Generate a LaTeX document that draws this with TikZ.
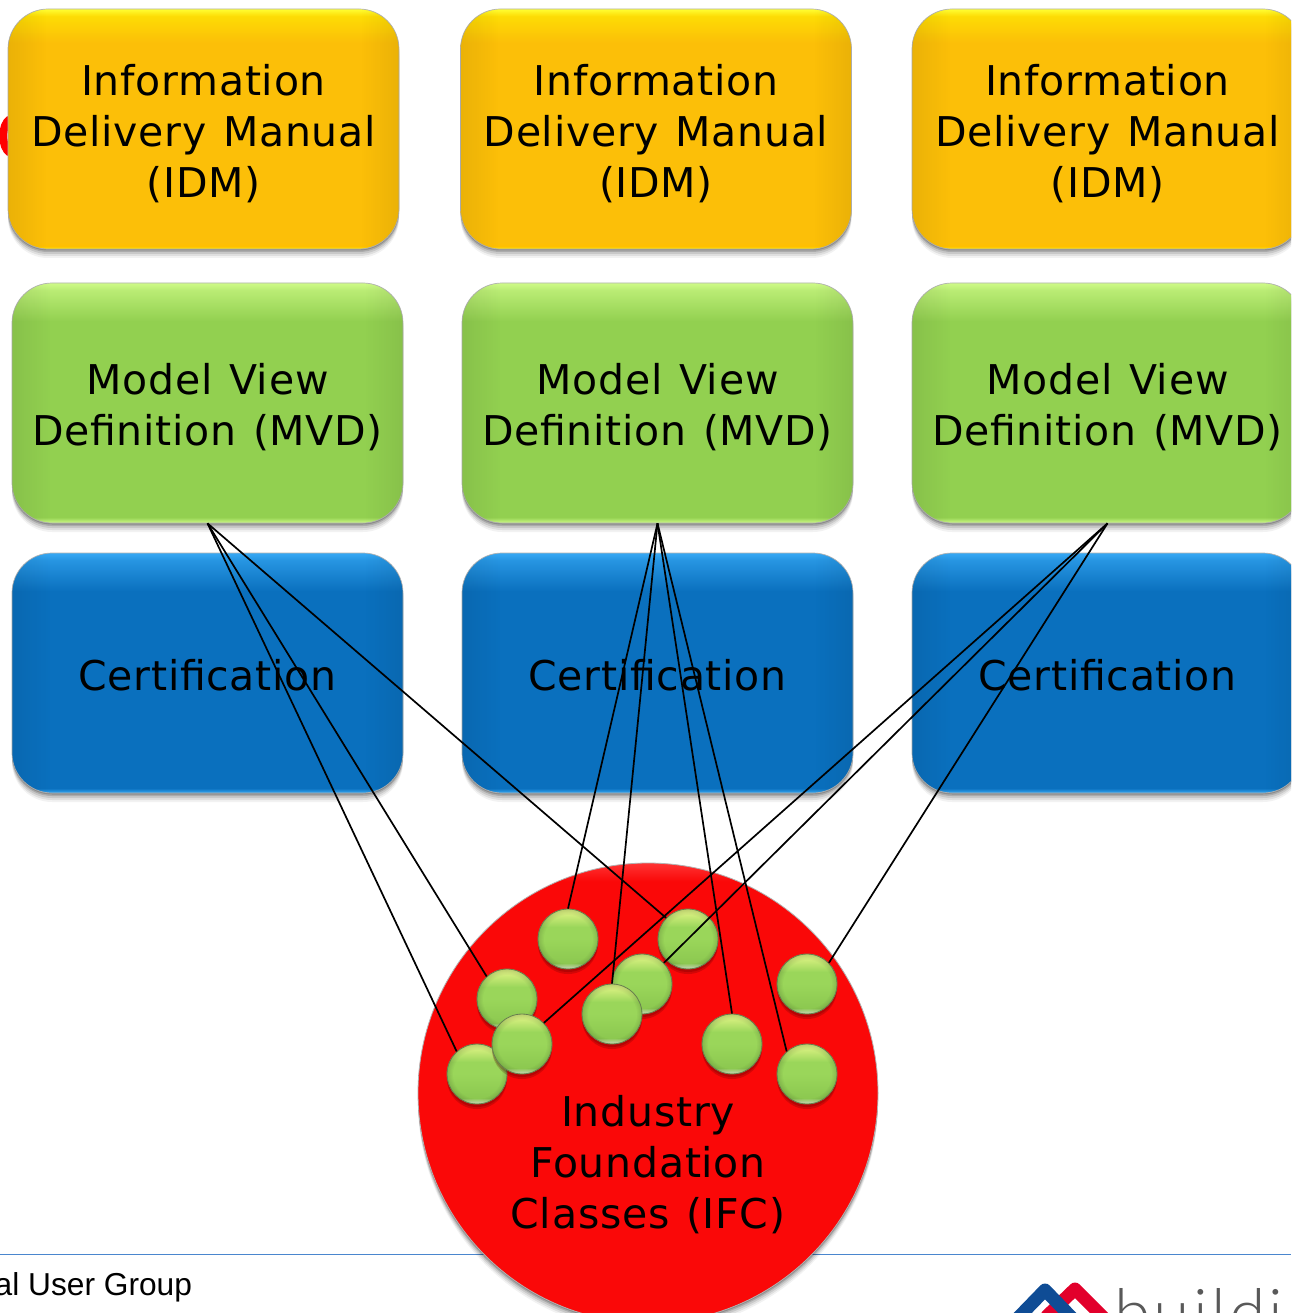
\documentclass[tikz,border=0pt]{standalone}
\usepackage{fontspec}
\setmainfont[LetterSpace=1.8,WordSpace=1.2]{DejaVu Sans}
\newfontfamily\footfont{Liberation Sans}
\newfontfamily\logofont[LetterSpace=5]{Lato Light}
\usetikzlibrary{shadows,fadings}
\definecolor{capBlue}{HTML}{4A86CE}
\definecolor{logoBlue}{HTML}{0F4C95}
\definecolor{logoRed}{HTML}{E2002B}
\definecolor{yellowbase}{HTML}{FCBF08}
\definecolor{greenbase}{HTML}{92D050}
\definecolor{greenhi}{HTML}{CFFB88}
\definecolor{bluebase}{HTML}{0A70BE}
\definecolor{bluehi}{HTML}{36A9F5}
\definecolor{redbase}{HTML}{FA0808}
\definecolor{ballTop}{HTML}{D8F080}
\definecolor{ballMid}{HTML}{9AD65A}
\definecolor{ballBot}{HTML}{8CC850}
\definecolor{ballHi}{HTML}{C4E88A}
\definecolor{ballEdge}{HTML}{708A55}
\pgfdeclareverticalshading{yellowbox}{100bp}{color(0bp)=(yellow!80!orange);color(25bp)=(yellow!80!orange);color(25.6bp)=(yellow!50!orange);color(26.5bp)=(yellowbase);color(68bp)=(yellowbase);color(73.5bp)=(yellowbase!55!yellow);color(75bp)=(yellow!80!white);color(100bp)=(yellow!80!white)}
\pgfdeclareverticalshading{greenbox}{100bp}{color(0bp)=(greenhi);color(25bp)=(greenhi);color(26.2bp)=(greenbase);color(67bp)=(greenbase);color(73.5bp)=(greenbase!35!greenhi);color(75bp)=(greenhi);color(100bp)=(greenhi)}
\pgfdeclareverticalshading{bluebox}{100bp}{color(0bp)=(bluehi);color(25bp)=(bluehi);color(26bp)=(bluebase);color(67bp)=(bluebase);color(73.5bp)=(bluebase!35!bluehi);color(75bp)=(bluehi);color(100bp)=(bluehi)}
\pgfdeclareverticalshading{redball}{100bp}{color(0bp)=(red!85!white);color(25bp)=(red!85!white);color(26.5bp)=(redbase);color(73bp)=(redbase);color(75bp)=(red!80!white);color(100bp)=(red!80!white)}
\pgfdeclareverticalshading{greenball}{100bp}{color(0bp)=(ballHi);color(25bp)=(ballHi);color(26.5bp)=(ballBot!45!white);color(30bp)=(ballBot);color(50bp)=(ballMid);color(60bp)=(ballMid);color(72bp)=(ballTop);color(75bp)=(ballTop);color(100bp)=(ballTop)}
\pgfdeclarehorizontalshading{sidefadeS}{100bp}{color(0bp)=(white);color(25bp)=(white);color(30bp)=(black);color(70bp)=(black);color(75bp)=(white);color(100bp)=(white)}
\pgfdeclareradialshading{edgefadeS}{\pgfpoint{0bp}{0bp}}{color(0bp)=(black);color(20bp)=(black);color(25bp)=(white);color(50bp)=(white)}
\tikzfading[name=sidefade,shading=sidefadeS]
\tikzfading[name=edgefade,shading=edgefadeS]
\newcommand{\dropText}[2]{\raisebox{-#1}[\height][\depth]{#2}}
\tikzset{
  softshadow/.style={
    general shadow={fill=black,opacity=.05,shadow yshift=-9pt},
    general shadow={fill=black,opacity=.08,shadow yshift=-7pt},
    general shadow={fill=black,opacity=.10,shadow yshift=-5pt},
    general shadow={fill=black,opacity=.14,shadow yshift=-3pt},
    general shadow={fill=black,opacity=.18,shadow yshift=-1.5pt}},
  panel/.style={rectangle,rounded corners=40pt,minimum width=391pt,minimum height=240pt,
    inner sep=0pt,align=center,draw=black!30,line width=.7pt,softshadow,
    font=\fontsize{41}{51}\selectfont,
    postaction={fill=black,fill opacity=.07,path fading=sidefade}},
  idmbox/.style={panel,shading=yellowbox},
  mvdbox/.style={panel,shading=greenbox},
  certbox/.style={panel,shading=bluebox},
  ifcdisc/.style={circle,minimum size=460pt,inner sep=0pt,shading=redball,draw=black!30,line width=.8pt,softshadow},
  ifclabel/.style={align=center,inner sep=0pt,font=\fontsize{41}{51}\selectfont},
  entity/.style={circle,minimum size=60pt,inner sep=0pt,shading=greenball,draw=ballEdge,line width=.8pt,
    general shadow={fill=black!70!red,opacity=.22,shadow yshift=-5pt},
    general shadow={fill=black!70!red,opacity=.22,shadow yshift=-3pt},
    postaction={fill=black,fill opacity=.14,path fading=edgefade}},
  link/.style={draw=black,line width=1.7pt},
  rule/.style={draw=capBlue,line width=1.3pt},
  logoband/.style={line width=13pt,line join=round,line cap=round}
}
\begin{document}
\begin{tikzpicture}[x=1pt,y=-1pt]
\useasboundingbox (0,0) rectangle (1291,1313);
\clip (0,0) rectangle (1291,1313);
\fill[white] (0,0) rectangle (1291,1313);
% footer
\coordinate (ruleL) at (0,1254.5);
\coordinate (ruleR) at (1291,1254.5);
\draw[rule] (ruleL) -- (ruleR);
\node[anchor=base west,inner sep=0pt,font=\footfont\fontsize{31.7}{36}\selectfont] (foot) at (-5.5,1295) {al User Group};
\draw[logoband,draw=logoRed] (1047,1316) -- (1075,1289) -- (1106,1320);
\draw[logoband,draw=logoBlue] (1014,1322) -- (1045,1290) -- (1076,1322);
\node[anchor=base west,inner sep=0pt,text=black!65,font=\logofont\fontsize{66}{70}\selectfont] (logo) at (1114,1336) {buildin};
% red fragment behind first box
\draw[red,line width=8pt] (10,119) .. controls (1,125) and (1,147) .. (10,153);
% panels
\node[idmbox] (idm1) at (203.5,129) {\dropText{5pt}{\parbox{385pt}{\centering Information\\Delivery Manual\\(IDM)}}};
\node[idmbox] (idm2) at (656,129) {\dropText{5pt}{\parbox{385pt}{\centering Information\\Delivery Manual\\(IDM)}}};
\node[idmbox] (idm3) at (1107.5,129) {\dropText{5pt}{\parbox{385pt}{\centering Information\\Delivery Manual\\(IDM)}}};
\node[mvdbox] (mvd1) at (207.5,403) {\dropText{4pt}{\parbox{385pt}{\centering Model View\\Definition (MVD)}}};
\node[mvdbox] (mvd2) at (657.5,403) {\dropText{4pt}{\parbox{385pt}{\centering Model View\\Definition (MVD)}}};
\node[mvdbox] (mvd3) at (1107.5,403) {\dropText{4pt}{\parbox{385pt}{\centering Model View\\Definition (MVD)}}};
\node[certbox] (cert1) at (207.5,673) {\dropText{2pt}{Certification}};
\node[certbox] (cert2) at (657.5,673) {\dropText{2pt}{Certification}};
\node[certbox] (cert3) at (1107.5,673) {\dropText{2pt}{Certification}};
% IFC
\node[ifcdisc] (ifc) at (648,1093) {};
\node[ifclabel] (ifctext) at (648,1165) {Industry\\Foundation\\Classes (IFC)};
% entities
\node[entity] (a) at (568,939) {};
\node[entity] (b) at (688,939) {};
\node[entity] (c) at (642,984) {};
\node[entity] (d) at (612,1014) {};
\node[entity] (e) at (507,999) {};
\node[entity] (g) at (477,1074) {};
\node[entity] (f) at (522,1044) {};
\node[entity] (h) at (732,1044) {};
\node[entity] (i) at (807,984) {};
\node[entity] (j) at (807,1074) {};
% links
\draw[link] (mvd1.south) -- (g.132);
\draw[link] (mvd1.south) -- (e.132);
\draw[link] (mvd1.south) -- (b.136);
\draw[link] (mvd2.south) -- (a.90);
\draw[link] (mvd2.south) -- (d.90);
\draw[link] (mvd2.south) -- (h.90);
\draw[link] (mvd2.south) -- (j.132);
\draw[link] (mvd3.south) -- (f.44);
\draw[link] (mvd3.south) -- (c.44);
\draw[link] (mvd3.south) -- (i.44);
\end{tikzpicture}
\end{document}
